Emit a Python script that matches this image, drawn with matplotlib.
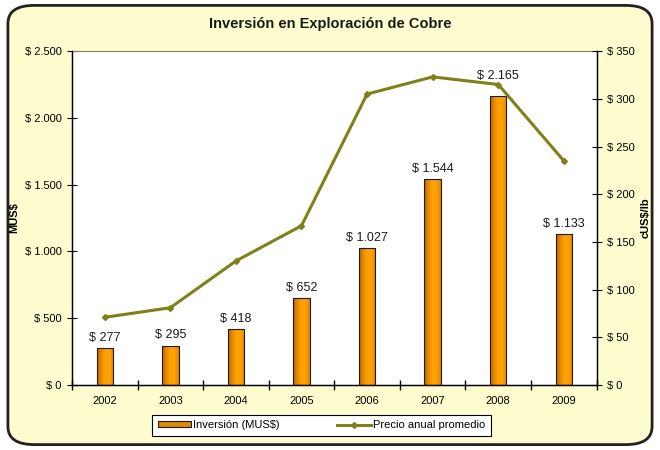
import numpy as np
import matplotlib.pyplot as plt
from matplotlib.patches import FancyBboxPatch
from matplotlib.colors import LinearSegmentedColormap
from matplotlib.ticker import FuncFormatter

plt.rcParams['font.family'] = ['Liberation Sans', 'DejaVu Sans']

years = ['2002', '2003', '2004', '2005', '2006', '2007', '2008', '2009']
inversion = [277, 295, 418, 652, 1027, 1544, 2165, 1133]
precio = [71, 81, 130, 167, 305, 323, 315, 235]

line_color = '#7F8018'
bar_color = '#F39A00'
grad = LinearSegmentedColormap.from_list(
    'bar', ['#B86400', '#E68A00', '#FFA200', '#FFA000', '#E08600'])


def fmt_money(v, pos=None):
    return '$ ' + f'{int(v):,}'.replace(',', '.')


fig = plt.figure(figsize=(6.6, 4.5), dpi=100)
fig.patch.set_facecolor('white')
frame = FancyBboxPatch((0.012, 0.012), 0.976, 0.976,
                       boxstyle='round,pad=0,rounding_size=0.04',
                       transform=fig.transFigure, facecolor='#FFFDD0',
                       edgecolor='#222222', linewidth=2, zorder=-10)
fig.patches.append(frame)

ax = fig.add_axes([0.109, 0.1444, 0.795, 0.742])
ax.set_facecolor('white')
x = range(len(years))
bars = ax.bar(x, inversion, width=0.25, color=bar_color, edgecolor='#1a1a1a',
              linewidth=0.8, label='Inversión (MUS$)', zorder=2)
# cylinder-like shading inside each bar
g = np.linspace(0, 1, 64).reshape(1, -1)
for b in bars:
    bx, by = b.get_x(), b.get_y()
    im = ax.imshow(g, cmap=grad, aspect='auto', zorder=2.5,
                   extent=(bx, bx + b.get_width(), by, by + b.get_height()))
    im.set_clip_path(b)
    b.set_facecolor('none')
    b.set_zorder(2.6)

for xi, v in zip(x, inversion):
    off = 10 if years[xi] == '2008' else 3
    ax.annotate(fmt_money(v), (xi, v), xytext=(0, off), textcoords='offset points',
                ha='center', va='bottom', fontsize=9, color='#1a1a1a')

ax.set_xlim(-0.5, len(years) - 0.5)
ax.set_ylim(0, 2500)
ax.set_yticks(range(0, 2501, 500))
ax.yaxis.set_major_formatter(FuncFormatter(fmt_money))
ax.set_xticks(list(x))
ax.set_xticklabels(years)
ax.set_xticks([i + 0.5 for i in range(-1, len(years))], minor=True)
ax.tick_params(axis='x', which='major', length=0, labelsize=8, pad=8)
ax.tick_params(axis='x', which='minor', direction='inout', length=7, width=1)
ax.tick_params(axis='y', direction='inout', length=7, labelsize=8, pad=4)
ax.set_ylabel('MUS$', fontsize=8, fontweight='bold')
for s in ['left', 'bottom']:
    ax.spines[s].set_linewidth(1)
    ax.spines[s].set_color('black')
ax.spines['top'].set_color('#808060')
ax.spines['top'].set_linewidth(0.8)

ax2 = ax.twinx()
ax2.plot(x, precio, color=line_color, linewidth=2.2, marker='D', markersize=3,
         label='Precio anual promedio', zorder=3)
ax2.set_ylim(0, 350)
ax2.set_yticks(range(0, 351, 50))
ax2.yaxis.set_major_formatter(FuncFormatter(fmt_money))
ax2.tick_params(axis='y', direction='inout', length=7, labelsize=8, pad=4)
ax2.set_ylabel('cUS$/lb', fontsize=8, fontweight='bold')
ax2.spines['right'].set_color('black')
ax2.spines['right'].set_linewidth(1)
ax2.spines['top'].set_visible(False)

fig.text(0.5, 0.947, 'Inversión en Exploración de Cobre', ha='center',
         va='center', fontsize=10.5, fontweight='bold', color='#1a1a1a')

leg_bar = plt.Rectangle((0, 0), 1, 1, facecolor='#E08A00', edgecolor='#1a1a1a',
                        linewidth=0.8)
h2, l2 = ax2.get_legend_handles_labels()
leg = fig.legend([leg_bar] + h2, ['Inversión (MUS$)'] + l2, loc='center', ncol=2,
                 bbox_to_anchor=(0.487, 0.055), fontsize=8, frameon=True,
                 fancybox=False, edgecolor='black', columnspacing=5.2,
                 handlelength=3.0, handleheight=0.5, handletextpad=0.2,
                 borderpad=0.5, borderaxespad=0, framealpha=1)
leg._legend_box.sep = 0
leg.get_frame().set_linewidth(0.8)

fig.savefig('out.png', dpi=100)
